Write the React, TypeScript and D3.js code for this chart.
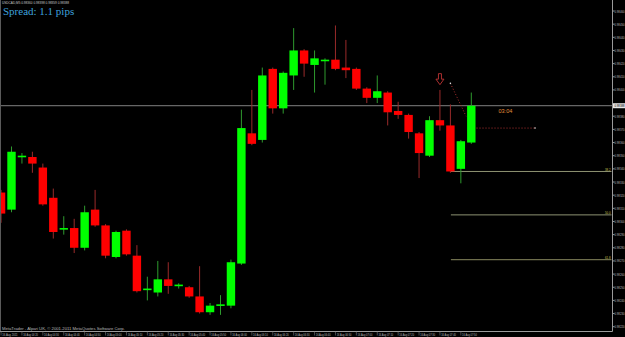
import React from 'react';
import * as d3 from 'd3';

const headerText = 'USDCAD,M5  0.98360 0.98398 0.98359 0.98388';
const spreadText = 'Spread: 1.1 pips';
const copyright = 'MetaTrader - Alpari UK, \u00a9 2001-2011 MetaQuotes Software Corp.';

const opens = [0.98322, 0.98309, 0.98349, 0.98349, 0.98341, 0.98318, 0.98294, 0.98295, 0.9828, 0.98309, 0.98297, 0.98273, 0.98293, 0.98274, 0.98248, 0.98246, 0.98256, 0.98251, 0.9825, 0.98243, 0.98231, 0.98236, 0.98236, 0.98268, 0.98367, 0.98362, 0.98416, 0.98386, 0.98411, 0.9843, 0.98419, 0.98422, 0.98423, 0.98417, 0.98416, 0.98401, 0.98394, 0.98398, 0.98384, 0.98381, 0.98367, 0.9835, 0.98377, 0.98373, 0.9834, 0.9836];
const highs = [0.98324, 0.98357, 0.98352, 0.98353, 0.98344, 0.98325, 0.98304, 0.98302, 0.98312, 0.98324, 0.98298, 0.98293, 0.98294, 0.98282, 0.98258, 0.9827, 0.98269, 0.98253, 0.98251, 0.98266, 0.98238, 0.98244, 0.98271, 0.98385, 0.984, 0.98417, 0.98417, 0.98414, 0.98447, 0.98431, 0.9843, 0.98424, 0.98449, 0.98438, 0.98417, 0.98402, 0.98411, 0.98399, 0.98391, 0.98382, 0.98368, 0.9838, 0.984, 0.98389, 0.98362, 0.98398];
const lows = [0.98299, 0.98307, 0.98344, 0.98337, 0.98312, 0.98287, 0.9829, 0.98276, 0.98278, 0.98296, 0.98272, 0.98272, 0.98274, 0.98246, 0.9824, 0.98243, 0.98245, 0.98249, 0.98242, 0.9823, 0.98229, 0.98229, 0.98234, 0.98267, 0.98358, 0.9836, 0.98382, 0.98382, 0.984, 0.9841, 0.98398, 0.98404, 0.98415, 0.98409, 0.984, 0.9839, 0.9839, 0.98373, 0.98378, 0.98363, 0.98333, 0.98349, 0.98369, 0.98337, 0.98329, 0.98359];
const closes = [0.98306, 0.98353, 0.9835, 0.98344, 0.98313, 0.98292, 0.98295, 0.9828, 0.98307, 0.98297, 0.98274, 0.98292, 0.98275, 0.98247, 0.98249, 0.98256, 0.98251, 0.98252, 0.98243, 0.98231, 0.98236, 0.98237, 0.98269, 0.98371, 0.98359, 0.98411, 0.98386, 0.98413, 0.9843, 0.9842, 0.98424, 0.98423, 0.98416, 0.98415, 0.98401, 0.98394, 0.98399, 0.98383, 0.98381, 0.98368, 0.98352, 0.98377, 0.98373, 0.98338, 0.98361, 0.98388];

const priceTickValues = [0.9822, 0.9823, 0.9824, 0.9825, 0.9826, 0.9827, 0.9828, 0.9829, 0.983, 0.9831, 0.9832, 0.9833, 0.9834, 0.9835, 0.9836, 0.9837, 0.9838, 0.9839, 0.984, 0.9841, 0.9842, 0.9843, 0.9844, 0.9845, 0.9846];

const timeLabels = ['16 Aug 2011', '16 Aug 04:20', '16 Aug 04:30', '16 Aug 04:40', '16 Aug 04:50', '16 Aug 05:00', '16 Aug 05:10', '16 Aug 05:20', '16 Aug 05:30', '16 Aug 05:40', '16 Aug 05:50', '16 Aug 06:00', '16 Aug 06:10', '16 Aug 06:20', '16 Aug 06:30', '16 Aug 06:40', '16 Aug 06:50', '16 Aug 07:00', '16 Aug 07:10', '16 Aug 07:20', '16 Aug 07:30', '16 Aug 07:40', '16 Aug 07:50'];
const timeLabelIndex = [0, 2, 4, 6, 8, 10, 12, 14, 16, 18, 20, 22, 24, 26, 28, 30, 32, 34, 36, 38, 40, 42, 44];

const levelPrices = [0.98338, 0.98305, 0.98271];
const levelLabels = ['38.2', '50.0', '61.8'];
const levelStartIndex = 43;

const trendA = [{ i: 43, p: 0.98405 }, { i: 44.5, p: 0.9838 }];
const trendB = [{ i: 45.5, p: 0.98371 }, { i: 51.1, p: 0.98371 }];
const timerText = '03:04';
const timerPos = { i: 47.6, p: 0.98384 };
const arrowPos = { i: 42, p: 0.98404 };

const W = 625;
const H = 337;
const AXIS_X = 612.5;
const AXIS_Y = 331.5;
const SMALL = 'Liberation Sans';

let ctx: CanvasRenderingContext2D | null = null;
function measure(text: string, size: number, family: string): number {
  if (!ctx) ctx = document.createElement('canvas').getContext('2d');
  if (!ctx) return text.length * size * 0.55;
  ctx.font = `${size}px "${family}"`;
  return ctx.measureText(text).width;
}

function FitText(props: { x: number; y: number; w: number; size: number; fill: string; text: string; anchor?: 'start' | 'end'; family?: string }) {
  const fam = props.family || SMALL;
  const nat = measure(props.text, props.size, fam);
  const s = nat > 0 ? props.w / nat : 1;
  const x0 = props.anchor === 'end' ? props.x - props.w : props.x;
  return (
    <text transform={`translate(${x0},${props.y}) scale(${s},1)`} fontSize={props.size} fontFamily={fam} fill={props.fill}>
      {props.text}
    </text>
  );
}

export default function App() {
  const x = d3.scaleLinear().domain([0, 45]).range([1.05, 471.3]);
  const y = d3.scaleLinear().domain([0.9822, 0.9846]).range([326.7, 11]);
  const bodyW = 8.4;
  const current = closes[closes.length - 1];
  const yc = y(current);
  const line = d3.line<{ i: number; p: number }>().x(d => x(d.i)).y(d => y(d.p));

  const ax = x(arrowPos.i);
  const ay = y(arrowPos.p);

  return (
    <div style={{ position: 'fixed', left: 0, top: 0, width: W, height: H, overflow: 'hidden', background: '#000' }}>
      <svg width={W} height={H} style={{ display: 'block' }}>
        <rect x={0} y={0} width={W} height={H} fill="#000" />
        <defs>
          <clipPath id="plot">
            <rect x={1} y={0} width={AXIS_X - 1} height={AXIS_Y} />
          </clipPath>
        </defs>
        <line x1={0.5} y1={0} x2={0.5} y2={AXIS_Y} stroke="#5a5a5a" />
        <line x1={AXIS_X} y1={0} x2={AXIS_X} y2={AXIS_Y} stroke="#9a9a9a" />
        <line x1={0} y1={AXIS_Y} x2={AXIS_X} y2={AXIS_Y} stroke="#9a9a9a" />

        <line x1={1} y1={yc} x2={AXIS_X} y2={yc} stroke="#808080" strokeWidth={1} />

        {levelPrices.map((p, k) => (
          <g key={'lv' + k}>
            <line x1={x(levelStartIndex) + 0.5} y1={y(p)} x2={AXIS_X - 1} y2={y(p)} stroke={k === 2 ? '#6e6e4c' : '#8e9272'} strokeWidth={k === 2 ? 1.4 : 1} />
            <FitText x={AXIS_X - 2} y={y(p) - 0.6} w={5.5} size={3.6} fill="#c8c050" text={levelLabels[k]} anchor="end" />
          </g>
        ))}

        <g clipPath="url(#plot)">
          {opens.map((o, i) => {
            const c = closes[i];
            const up = c >= o;
            const cx = x(i);
            const top = y(Math.max(o, c));
            const bot = y(Math.min(o, c));
            const h = Math.max(1.6, bot - top);
            return (
              <g key={i}>
                <line x1={cx} y1={y(highs[i])} x2={cx} y2={y(lows[i])} stroke={up ? '#2e9a2e' : '#9a2a2a'} strokeWidth={1} />
                <rect x={cx - bodyW / 2} y={top} width={bodyW} height={h} fill={up ? '#00ff00' : '#ff0000'} />
              </g>
            );
          })}
        </g>

        <path d={line(trendA) || ''} stroke="#b03030" strokeWidth={1} strokeDasharray="1,2" fill="none" />
        <circle cx={x(trendA[0].i)} cy={y(trendA[0].p)} r={0.8} fill="#e0e0e0" />
        <path d={line(trendB) || ''} stroke="#b03030" strokeWidth={1} strokeDasharray="1,2" fill="none" />
        <circle cx={x(trendB[1].i)} cy={y(trendB[1].p)} r={0.8} fill="#e0e0e0" />
        <FitText x={x(timerPos.i)} y={y(timerPos.p) + 2} w={14} size={5.5} fill="#e0903c" text={timerText} />

        <path d={`M${ax - 1.5},${ay - 11} L${ax + 1.5},${ay - 11} L${ax + 1.5},${ay - 5.5} L${ax + 4},${ay - 5.5} L${ax},${ay} L${ax - 4},${ay - 5.5} L${ax - 1.5},${ay - 5.5} Z`} fill="none" stroke="#c03434" strokeWidth={0.9} />

        {priceTickValues.filter(p => Math.abs(y(p) - yc) > 6).map(p => (
          <g key={'pt' + p}>
            <line x1={AXIS_X} y1={y(p)} x2={AXIS_X + 2} y2={y(p)} stroke="#9a9a9a" />
            <FitText x={614.5} y={y(p) + 1.5} w={10} size={4.2} fill="#b8b8b8" text={p.toFixed(5)} />
          </g>
        ))}
        <rect x={AXIS_X + 0.5} y={yc - 2.5} width={12} height={5} fill="#e6e6e6" />
        <FitText x={614.5} y={yc + 1.5} w={10} size={4.2} fill="#000" text={current.toFixed(5)} />

        {timeLabels.map((t, k) => {
          const lx = x(timeLabelIndex[k]);
          return (
            <g key={'tl' + k}>
              <line x1={lx} y1={AXIS_Y} x2={lx} y2={AXIS_Y + 4} stroke="#7a7a7a" strokeWidth={0.6} />
              <FitText x={lx + 1.2} y={335.6} w={k === 0 ? 15.5 : 15} size={4} fill="#b8b8b8" text={t} />
            </g>
          );
        })}

        <FitText x={2} y={4.4} w={68} size={4.2} fill="#c8c8c8" text={headerText} />
        <text x={3} y={14.5} fontSize={11} fontFamily="Liberation Serif, Times New Roman, serif" fill="#3ea2de">{spreadText}</text>
        <FitText x={2} y={329.6} w={123} size={4.2} fill="#b8b8b8" text={copyright} />
      </svg>
    </div>
  );
}
